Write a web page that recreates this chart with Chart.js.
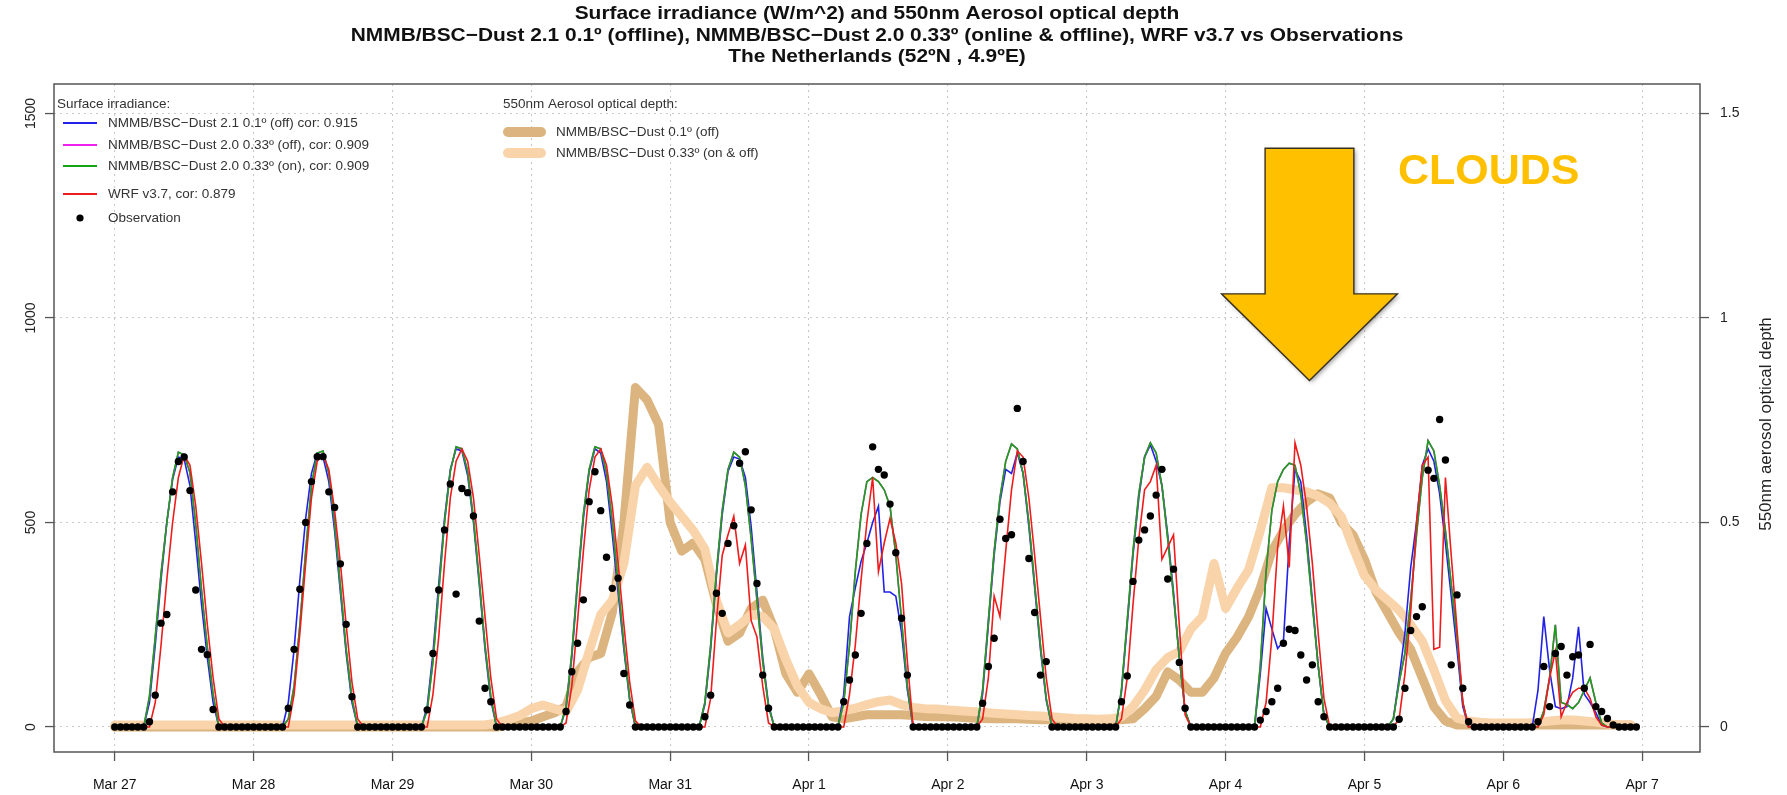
<!DOCTYPE html>
<html>
<head>
<meta charset="utf-8">
<script src="https://cdn.jsdelivr.net/npm/chart.js@4.4.1/dist/chart.umd.min.js"></script>
<style>
  html, body { margin: 0; padding: 0; background: #fff; }
  #wrap { width: 1787px; height: 795px; }
</style>
</head>
<body>
<div id="wrap"><canvas id="chart" width="1787" height="795"></canvas></div>
<script>
// time axis = hours since Mar 27 00:00 UTC, irradiance series hourly (one row = one day)
const dayLabels = ["Mar 27", "Mar 28", "Mar 29", "Mar 30", "Mar 31", "Apr 1", "Apr 2", "Apr 3", "Apr 4", "Apr 5", "Apr 6", "Apr 7"];
const irrTicks = [0, 500, 1000, 1500];
const aodTicks = [0, 0.5, 1, 1.5];
const aodLabels = ["0", "0.5", "1", "1.5"];

const titleLines = [
    "Surface irradiance (W/m^2) and 550nm Aerosol optical depth",
    "NMMB/BSC\u2212Dust 2.1 0.1\u00ba (offline), NMMB/BSC\u2212Dust 2.0 0.33\u00ba (online & offline), WRF v3.7 vs Observations",
    "The Netherlands (52\u00baN , 4.9\u00baE)"
];

const observation = [
    0,0,0,0,0,0,13,78,254,275,575,649,660,578,335,190,177,43,0,0,0,0,0,0,
    0,0,0,0,0,0,46,190,337,500,600,661,661,575,537,399,251,74,0,0,0,0,0,0,
    0,0,0,0,0,0,42,180,335,482,594,325,583,573,516,259,95,62,0,0,0,0,0,0,
    0,0,0,0,0,0,38,135,205,311,551,624,529,415,339,364,131,54,0,0,0,0,0,0,
    0,0,0,0,0,0,25,78,327,278,449,492,645,673,531,351,127,46,0,0,0,0,0,0,
    0,0,0,0,0,0,62,115,176,278,449,685,630,616,545,426,266,127,0,0,0,0,0,0,
    0,0,0,0,0,0,58,148,217,508,461,470,779,649,412,280,127,160,0,0,0,0,0,0,
    0,0,0,0,0,0,62,125,356,457,482,516,567,630,362,386,158,46,0,0,0,0,0,0,
    0,0,0,0,0,0,17,38,62,95,205,239,236,176,115,152,62,25,0,0,0,0,0,0,
    0,0,0,0,0,0,19,95,236,270,294,628,608,752,653,152,323,95,13,0,0,0,0,0,
    0,0,0,0,0,0,13,148,50,180,197,127,172,176,95,202,50,38,21,5,0,0,0,0
];

const dust21off = [
    0,0,0,0,0,0,60,200,360,500,605,660,655,590,450,300,170,60,0,0,0,0,0,0,
    0,0,0,0,0,0,60,190,360,510,620,670,660,600,480,330,180,60,0,0,0,0,0,0,
    0,0,0,0,0,0,50,180,350,510,630,680,675,615,500,350,190,65,0,0,0,0,0,0,
    0,0,0,0,0,0,45,170,350,510,625,680,670,600,470,330,190,65,0,0,0,0,0,0,
    0,0,0,0,0,0,55,190,370,520,625,660,655,610,490,330,170,55,0,0,0,0,0,0,
    0,0,0,0,0,0,80,270,340,405,450,500,540,330,330,320,230,90,0,0,0,0,0,0,
    0,0,0,0,0,0,80,250,420,550,630,620,670,620,490,340,190,65,0,0,0,0,0,0,
    0,0,0,0,0,0,85,250,420,560,660,690,650,590,470,330,170,40,0,0,0,0,0,0,
    0,0,0,0,0,0,130,290,240,192,210,450,630,600,470,310,150,30,0,0,0,0,0,0,
    0,0,0,0,0,20,120,230,390,500,640,680,650,570,450,320,190,50,0,0,0,0,0,0,
    0,0,0,0,0,0,90,270,140,50,45,50,120,245,80,60,35,5,0,0,0,0,0,0
];

const dust20on = [
    0,0,0,0,0,0,75,220,375,500,610,672,665,622,495,335,195,80,0,0,0,0,0,0,
    0,0,0,0,0,0,20,100,250,430,590,670,675,620,500,345,190,70,0,0,0,0,0,0,
    0,0,0,0,0,0,40,160,330,500,625,685,680,625,510,360,200,75,0,0,0,0,0,0,
    0,0,0,0,0,0,50,180,360,520,630,685,680,620,500,350,200,70,0,0,0,0,0,0,
    0,0,0,0,0,0,60,200,380,530,630,672,660,590,460,310,160,50,0,0,0,0,0,0,
    0,0,0,0,0,0,60,200,380,520,600,610,600,580,540,420,260,100,0,0,0,0,0,0,
    0,0,0,0,0,0,90,260,430,560,650,692,680,620,500,350,200,70,0,0,0,0,0,0,
    0,0,0,0,0,0,90,260,430,570,660,695,670,590,460,320,170,40,0,0,0,0,0,0,
    0,0,0,0,0,0,150,380,530,600,630,645,640,570,450,300,150,30,0,0,0,0,0,0,
    0,0,0,0,0,20,110,180,310,470,610,700,675,590,480,350,220,60,0,0,0,0,0,0,
    0,0,0,0,0,0,0,40,120,250,60,55,45,60,90,120,60,10,0,0,0,0,0,0
];

// the magenta run sits under the green one all along (same cor: 0.909)
const dust20off = dust20on.slice();

const wrf37 = [
    0,0,0,0,0,0,0,60,200,360,500,610,665,640,540,400,250,120,20,0,0,0,0,0,
    0,0,0,0,0,0,0,80,230,400,560,650,665,630,530,400,250,110,20,0,0,0,0,0,
    0,0,0,0,0,0,0,80,220,400,560,650,680,650,560,420,270,120,20,0,0,0,0,0,
    0,0,0,0,0,0,10,100,260,430,580,660,680,640,540,400,250,110,15,0,0,0,0,0,
    0,0,0,0,0,0,0,70,260,420,470,515,400,445,260,220,100,10,0,0,0,0,0,0,
    0,0,0,0,0,0,0,80,200,360,500,610,380,450,510,450,350,160,0,0,0,0,0,0,
    0,0,0,0,0,0,20,120,320,270,430,580,675,660,560,420,270,120,20,0,0,0,0,0,
    0,0,0,0,0,0,20,120,300,460,580,600,640,410,440,470,250,30,0,0,0,0,0,0,
    0,0,0,0,0,0,0,60,220,440,540,390,695,640,540,400,230,70,0,0,0,0,0,0,
    0,0,0,0,0,0,20,130,280,500,640,660,190,195,610,420,240,60,0,0,0,0,0,0,
    0,0,0,0,0,0,0,30,120,185,25,60,85,95,95,70,25,5,0,0,0,0,0,0
];

// aerosol optical depth, every 2 hours (one row = one day)
const aod01off = [
    0,0,0,0,0,0,0,0,0,0,0,0,
    0,0,0,0,0,0,0,0,0,0,0,0,
    0,0,0,0,0,0,0,0,0,0,0.005,0.01,
    0.015,0.025,0.035,0.05,0.135,0.17,0.18,0.28,0.5,0.83,0.8,0.74,
    0.5,0.43,0.45,0.41,0.3,0.21,0.23,0.29,0.31,0.24,0.13,0.085,
    0.13,0.08,0.025,0.02,0.025,0.03,0.03,0.03,0.03,0.028,0.026,0.025,
    0.025,0.024,0.022,0.021,0.02,0.02,0.02,0.019,0.018,0.018,0.018,0.018,
    0.018,0.018,0.018,0.018,0.02,0.045,0.075,0.135,0.115,0.085,0.085,0.12,
    0.18,0.22,0.27,0.34,0.43,0.48,0.52,0.55,0.57,0.56,0.5,0.47,
    0.41,0.33,0.28,0.23,0.19,0.12,0.05,0.015,0.005,0.005,0.005,0.005,
    0.005,0.005,0.005,0.005,0.005,0.005,0.005,0.005,0.005,0.005,0.005,0.005
];

const aod033 = [
    0.005,0.005,0.005,0.005,0.005,0.005,0.005,0.005,0.005,0.005,0.005,0.005,
    0.005,0.005,0.005,0.005,0.005,0.005,0.005,0.005,0.005,0.005,0.005,0.005,
    0.005,0.005,0.005,0.005,0.005,0.005,0.005,0.005,0.005,0.01,0.018,0.028,
    0.045,0.054,0.045,0.037,0.09,0.185,0.275,0.31,0.4,0.59,0.635,0.59,
    0.55,0.515,0.48,0.435,0.31,0.23,0.25,0.275,0.27,0.24,0.165,0.1,
    0.06,0.045,0.035,0.04,0.046,0.055,0.062,0.066,0.055,0.048,0.045,0.044,
    0.042,0.04,0.038,0.036,0.034,0.032,0.03,0.028,0.027,0.025,0.023,0.021,
    0.02,0.019,0.02,0.025,0.05,0.09,0.14,0.17,0.185,0.24,0.27,0.4,
    0.29,0.34,0.385,0.48,0.585,0.585,0.58,0.575,0.565,0.547,0.515,0.44,
    0.37,0.335,0.31,0.285,0.25,0.21,0.14,0.065,0.022,0.015,0.012,0.01,
    0.01,0.01,0.01,0.012,0.015,0.017,0.017,0.015,0.012,0.008,0.005,0.005
];

// "CLOUDS" call-out, placed in axis units (hours, W/m^2)
const cloudArrow = { x: 206.5, top: 1415, neck: 1059, tip: 847, shaftHalf: 7.67, headHalf: 15.2 };
const cloudText = { x: 221.8, y: 1328, text: "CLOUDS" };

const FONT = "'Liberation Sans', Arial, Helvetica, sans-serif";
Chart.defaults.font.family = FONT;

const hourly = arr => arr.map((y, i) => ({ x: i, y }));
const twoHourly = arr => arr.map((y, i) => ({ x: i * 2, y }));

function irrLine(key, label, data, color, order) {
    return {
        key, label, data: hourly(data), yAxisID: "y", order,
        borderColor: color, backgroundColor: color, borderWidth: 1.6,
        pointRadius: 0, pointHoverRadius: 0, tension: 0
    };
}
function aodLine(key, label, data, color, order) {
    return {
        key, label, data: twoHourly(data), yAxisID: "aod", order,
        borderColor: color, backgroundColor: color, borderWidth: 9,
        borderCapStyle: "round", borderJoinStyle: "round",
        pointRadius: 0, pointHoverRadius: 0, tension: 0
    };
}

const gridStyle = {
    color: "#c9c9c9", lineWidth: 1.1, tickLength: 9,
    tickColor: "#555", tickWidth: 1.3, tickBorderDash: []
};

const rDecor = {
    id: "rDecor",
    afterDraw(chart) {
        const { ctx, chartArea: a, scales } = chart;
        const xs = scales.x, ys = scales.y;
        ctx.save();

        // title (a little condensed look: smaller font, stretched to the same width)
        ctx.fillStyle = "#111";
        ctx.textAlign = "center";
        ctx.textBaseline = "middle";
        ctx.font = `bold 18.5px ${FONT}`;
        titleLines.forEach((t, i) => {
            ctx.save();
            ctx.translate((a.left + a.right) / 2, 14 + i * 21.7);
            ctx.scale(1.13, 1);
            ctx.fillText(t, 0, 0);
            ctx.restore();
        });

        // box
        ctx.strokeStyle = "#555";
        ctx.lineWidth = 1.5;
        ctx.strokeRect(a.left, a.top, a.right - a.left, a.bottom - a.top);

        // left tick labels, R style (rotated)
        ctx.font = `14px ${FONT}`;
        ctx.fillStyle = "#222";
        irrTicks.forEach(v => {
            ctx.save();
            ctx.translate(31, ys.getPixelForValue(v));
            ctx.rotate(-Math.PI / 2);
            ctx.fillText(String(v), 0, 0);
            ctx.restore();
        });

        // right axis title
        ctx.save();
        ctx.translate(1766, 424);
        ctx.rotate(-Math.PI / 2);
        ctx.font = `17px ${FONT}`;
        ctx.fillText("550nm aerosol optical depth", 0, 0);
        ctx.restore();

        // legends
        const ds = chart.data.datasets;
        ctx.textAlign = "left";
        ctx.fillStyle = "#333";
        ctx.font = `13.5px ${FONT}`;
        ctx.fillText("Surface irradiance:", 57, 104);
        const irr = ["dust21off", "dust20off", "dust20on", "wrf37", "obs"].map(k => ds.find(d => d.key === k));
        const irrY = [123, 145, 166, 194, 218];
        irr.forEach((d, i) => {
            const y = irrY[i];
            if (d.key === "obs") {
                ctx.beginPath();
                ctx.fillStyle = "#000";
                ctx.arc(80, y, 3.6, 0, Math.PI * 2);
                ctx.fill();
            } else {
                ctx.strokeStyle = d.borderColor;
                ctx.lineWidth = 1.8;
                ctx.beginPath();
                ctx.moveTo(63, y);
                ctx.lineTo(97, y);
                ctx.stroke();
            }
            ctx.fillStyle = "#333";
            ctx.fillText(d.label, 108, y);
        });

        ctx.fillText("550nm Aerosol optical depth:", 503, 104);
        const aod = ["aod01off", "aod033"].map(k => ds.find(d => d.key === k));
        const aodY = [132, 153];
        aod.forEach((d, i) => {
            ctx.strokeStyle = d.borderColor;
            ctx.lineWidth = 10;
            ctx.lineCap = "round";
            ctx.beginPath();
            ctx.moveTo(508, aodY[i]);
            ctx.lineTo(541, aodY[i]);
            ctx.stroke();
            ctx.fillStyle = "#333";
            ctx.fillText(d.label, 556, aodY[i]);
        });
        ctx.lineCap = "butt";

        // clouds arrow
        const cx = xs.getPixelForValue(cloudArrow.x);
        const sw = xs.getPixelForValue(cloudArrow.x + cloudArrow.shaftHalf) - cx;
        const hw = xs.getPixelForValue(cloudArrow.x + cloudArrow.headHalf) - cx;
        const yTop = ys.getPixelForValue(cloudArrow.top);
        const yNeck = ys.getPixelForValue(cloudArrow.neck);
        const yTip = ys.getPixelForValue(cloudArrow.tip);
        ctx.save();
        ctx.beginPath();
        ctx.moveTo(cx - sw, yTop);
        ctx.lineTo(cx + sw, yTop);
        ctx.lineTo(cx + sw, yNeck);
        ctx.lineTo(cx + hw, yNeck);
        ctx.lineTo(cx, yTip);
        ctx.lineTo(cx - hw, yNeck);
        ctx.lineTo(cx - sw, yNeck);
        ctx.closePath();
        ctx.shadowColor = "rgba(0,0,0,0.35)";
        ctx.shadowBlur = 4;
        ctx.shadowOffsetX = 2;
        ctx.shadowOffsetY = 2;
        ctx.fillStyle = "#ffc000";
        ctx.fill();
        ctx.shadowColor = "transparent";
        ctx.strokeStyle = "#3a3020";
        ctx.lineWidth = 1.4;
        ctx.stroke();
        ctx.restore();

        ctx.font = `bold 43px ${FONT}`;
        ctx.fillStyle = "#ffc000";
        ctx.textBaseline = "alphabetic";
        ctx.fillText(cloudText.text, xs.getPixelForValue(cloudText.x), ys.getPixelForValue(cloudText.y));

        ctx.restore();
    }
};

const datasets = [
    { key: "obs", label: "Observation", data: hourly(observation), yAxisID: "y", order: 0,
      showLine: false, pointRadius: 3.7, pointHoverRadius: 3.7,
      pointBackgroundColor: "#000", pointBorderColor: "#000", pointBorderWidth: 0 },
    irrLine("wrf37", "WRF v3.7, cor: 0.879", wrf37, "#ee1c1c", 1),
    irrLine("dust20on", "NMMB/BSC\u2212Dust 2.0 0.33\u00ba (on), cor: 0.909", dust20on, "#13a313", 2),
    irrLine("dust20off", "NMMB/BSC\u2212Dust 2.0 0.33\u00ba (off), cor: 0.909", dust20off, "#f020f0", 3),
    irrLine("dust21off", "NMMB/BSC\u2212Dust 2.1 0.1\u00ba (off) cor: 0.915", dust21off, "#2222e6", 4),
    aodLine("aod033", "NMMB/BSC\u2212Dust 0.33\u00ba (on & off)", aod033, "#f9d4ab", 5),
    aodLine("aod01off", "NMMB/BSC\u2212Dust 0.1\u00ba (off)", aod01off, "#dcb47f", 6)
];

new Chart(document.getElementById("chart"), {
    type: "line",
    data: { datasets },
    options: {
        responsive: false,
        devicePixelRatio: 1,
        animation: false,
        events: [],
        layout: { padding: { top: 84, left: 0, right: 0, bottom: 0 } },
        plugins: {
            legend: { display: false },
            title: { display: false },
            tooltip: { enabled: false }
        },
        scales: {
            x: {
                type: "linear", min: -10.5, max: 274,
                afterBuildTicks: s => { s.ticks = dayLabels.map((_, i) => ({ value: i * 24 })); },
                afterFit: s => { s.height = 43; },
                ticks: {
                    callback: (v, i) => dayLabels[i], autoSkip: false, maxRotation: 0,
                    font: { size: 14 }, color: "#111", padding: 16
                },
                grid: gridStyle,
                border: { display: false, dash: [2, 4] }
            },
            y: {
                position: "left", min: -61, max: 1572,
                afterBuildTicks: s => { s.ticks = irrTicks.map(v => ({ value: v })); },
                afterFit: s => { s.width = 54; },
                ticks: { display: false },
                grid: gridStyle,
                border: { display: false, dash: [2, 4] }
            },
            aod: {
                position: "right", min: -0.061, max: 1.572,
                afterBuildTicks: s => { s.ticks = aodTicks.map(v => ({ value: v })); },
                afterFit: s => { s.width = 87; },
                ticks: {
                    callback: (v, i) => aodLabels[i],
                    font: { size: 14 }, color: "#222", padding: 11
                },
                grid: Object.assign({}, gridStyle, { drawOnChartArea: false }),
                border: { display: false }
            }
        }
    },
    plugins: [rDecor]
});
</script>
</body>
</html>
